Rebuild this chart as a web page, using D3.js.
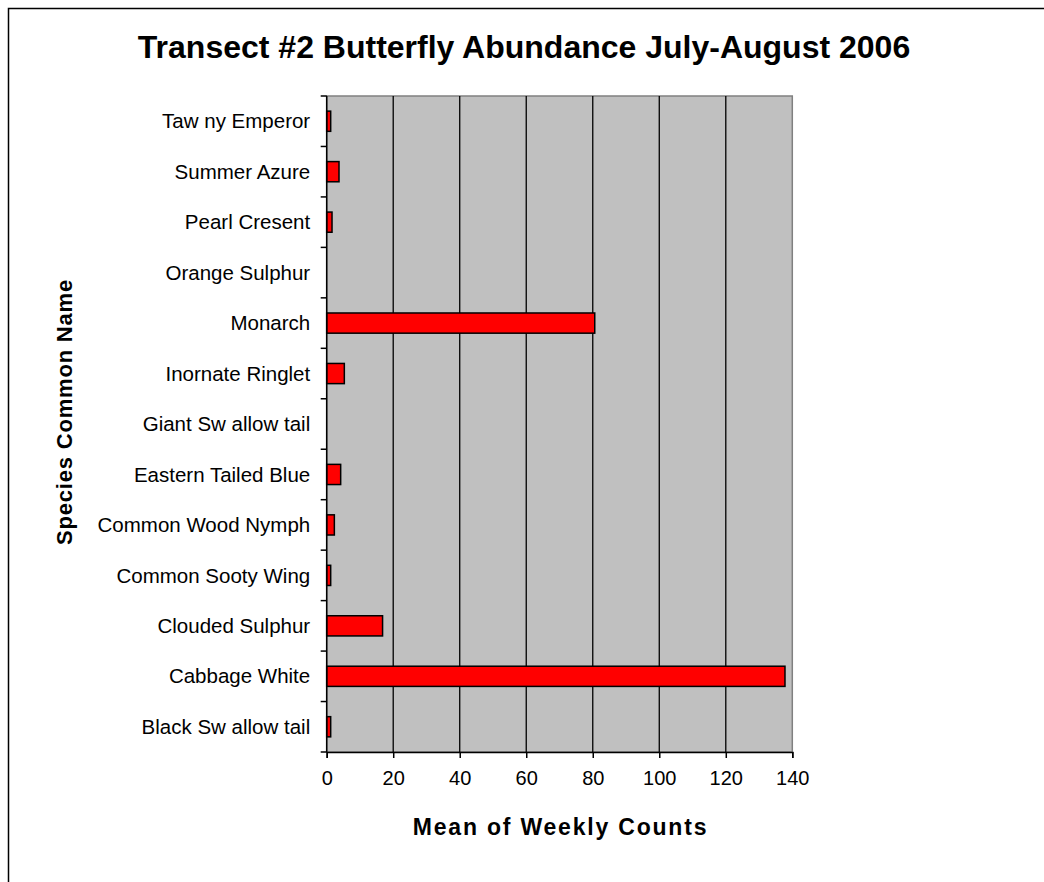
<!DOCTYPE html>
<html><head><meta charset="utf-8">
<script src="https://cdn.jsdelivr.net/npm/d3@7"></script>
<style>body{margin:0;background:#fff}svg{display:block}text{font-family:"Liberation Sans",Arial,sans-serif}</style>
</head><body><svg id="c" width="1044" height="882"></svg>
<script>
const categories = ["Taw ny Emperor","Summer Azure","Pearl Cresent","Orange Sulphur","Monarch","Inornate Ringlet","Giant Sw allow tail","Eastern Tailed Blue","Common Wood Nymph","Common Sooty Wing","Clouded Sulphur","Cabbage White","Black Sw allow tail"];
const values = [1.2, 3.7, 1.6, 0, 80.6, 5.3, 0, 4.2, 2.3, 1.2, 16.8, 137.8, 1.2];
const xTicks = [0,20,40,60,80,100,120,140];
const title = "Transect #2 Butterfly Abundance July-August 2006";
const xTitle = "Mean of Weekly Counts";
const yTitle = "Species Common Name";

const svg = d3.select("#c");
const L = 326.7, R = 792.3, T = 96, B = 752;
const x = d3.scaleLinear().domain([0,140]).range([L,R]);
const y = d3.scaleBand().domain(categories).range([T,B]).paddingInner(0.6).paddingOuter(0.3);
const yb = d3.scaleBand().domain(categories).range([T,B]);

// outer border
svg.append("rect").attr("x",8.5).attr("y",8.5).attr("width",1100).attr("height",1000)
  .attr("fill","#fff").attr("stroke","#000").attr("stroke-width",1.5);

// plot area
svg.append("rect").attr("x",L).attr("y",T).attr("width",R-L).attr("height",B-T)
  .attr("fill","#c0c0c0").attr("stroke","#808080").attr("stroke-width",1.5);

// gridlines
svg.append("g").selectAll("line").data(xTicks.filter(d=>d>0&&d<140)).join("line")
  .attr("x1",d=>x(d)).attr("x2",d=>x(d)).attr("y1",T).attr("y2",B)
  .attr("stroke","#000").attr("stroke-width",1.3);

// bars
svg.append("g").selectAll("rect").data(values.map((v,i)=>({c:categories[i],v}))).join("rect")
  .filter(d=>d.v>0)
  .attr("x",x(0)).attr("y",d=>y(d.c)).attr("width",d=>x(d.v)-x(0)).attr("height",y.bandwidth())
  .attr("fill","#ff0000").attr("stroke","#000").attr("stroke-width",1.5);

// x axis
const xa = svg.append("g").attr("transform",`translate(0,${B})`)
  .call(d3.axisBottom(x).tickValues(xTicks).tickSize(6).tickPadding(13));
xa.select(".domain").attr("stroke","#000").attr("stroke-width",1.5);
xa.selectAll(".tick line").attr("stroke","#000").attr("stroke-width",1.5);
xa.selectAll("text").attr("font-size",20).attr("fill","#000").attr("font-family","Liberation Sans, Arial, sans-serif");

// y axis: labels and ticks at band boundaries
const ya = svg.append("g").attr("transform",`translate(${L},0)`);
ya.append("line").attr("x1",0).attr("x2",0).attr("y1",T).attr("y2",B).attr("stroke","#000").attr("stroke-width",1.5);
const bounds = categories.map(c=>yb(c)).concat([B]);
ya.selectAll("line.t").data(bounds).join("line").attr("class","t")
  .attr("x1",-6).attr("x2",0).attr("y1",d=>d).attr("y2",d=>d).attr("stroke","#000").attr("stroke-width",1.5);
ya.selectAll("text").data(categories).join("text")
  .attr("x",-16.5).attr("y",d=>yb(d)+yb.bandwidth()/2).attr("dy","0.35em")
  .attr("text-anchor","end").attr("font-size",20.5).attr("fill","#000").text(d=>d);

// titles
svg.append("text").attr("x",524).attr("y",47).attr("dy","0.35em").attr("text-anchor","middle")
  .attr("font-size",32).attr("font-weight","bold").attr("fill","#000").text(title);
svg.append("text").attr("x",(L+R)/2+1).attr("y",827).attr("dy","0.35em").attr("text-anchor","middle")
  .attr("font-size",23).attr("font-weight","bold").attr("letter-spacing",1.8).attr("fill","#000").text(xTitle);
svg.append("text").attr("transform",`translate(64,412) rotate(-90)`).attr("dy","0.35em").attr("text-anchor","middle")
  .attr("font-size",22).attr("font-weight","bold").attr("letter-spacing",0.8).attr("fill","#000").text(yTitle);
</script></body></html>
